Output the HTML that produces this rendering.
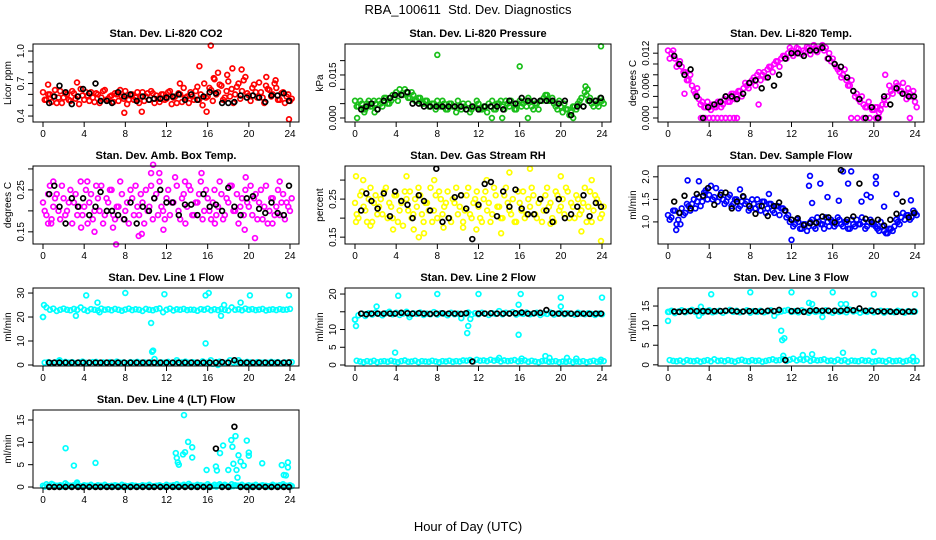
<!DOCTYPE html>
<html><head><meta charset="utf-8"><style>
html,body{margin:0;padding:0;background:#fff;}
svg{display:block;font-family:"Liberation Sans",sans-serif;}
</style></head><body>
<svg id="chart" width="936" height="540" viewBox="0 0 936 540" xmlns="http://www.w3.org/2000/svg">
<rect width="936" height="540" fill="#fff"/>
<text x="468" y="14" font-size="13" text-anchor="middle" style="white-space:pre">RBA_100611  Std. Dev. Diagnostics</text>
<text x="468" y="531" font-size="13" text-anchor="middle">Hour of Day (UTC)</text>
</svg>
<script>
// shared time categories for black (hourly-ish) points
const blackHours=[0.6,1.1,1.6,2.2,2.8,3.4,3.9,4.5,5.1,5.6,6.2,6.7,7.3,7.9,8.5,9.1,9.7,10.3,10.8,11.4,12.0,12.6,13.2,13.8,14.4,15.0,15.6,16.2,16.8,17.4,18.0,18.6,19.2,19.8,20.4,21.0,21.6,22.2,22.8,23.4,23.9];
const xTicks=[0,4,8,12,16,20,24];

// Panel 1: CO2
const co2A=[0.62,0.55,0.60,0.58,0.52,0.63,0.57,0.60,0.54,0.61,0.58,0.65,0.55,0.59,0.62,0.53,0.60,0.57,0.64,0.56,0.59,0.61,0.54,0.58,0.63,0.55,0.60,0.57,0.52,0.62,0.58,0.55,0.61,0.59,0.53,0.60,0.56,0.63,0.57,0.52,0.60,0.66,0.58,0.62,0.55,0.67,0.60,0.70,0.58,0.64,0.74,0.62,0.68,0.57,0.72,0.65,0.60,0.70,0.63,0.76,0.59,0.66,0.62,0.71,0.57,0.68,0.64,0.60,0.66,0.55,0.62,0.58,0.54];
const co2B=[0.55,0.60,0.53,0.64,0.57,0.52,0.61,0.55,0.63,0.56,0.51,0.59,0.62,0.54,0.57,0.61,0.52,0.63,0.55,0.58,0.53,0.60,0.64,0.56,0.51,0.59,0.55,0.62,0.58,0.54,0.61,0.63,0.52,0.56,0.60,0.55,0.62,0.51,0.58,0.61,0.53,0.57,0.52,0.58,0.63,0.55,0.50,0.57,0.66,0.54,0.60,0.69,0.55,0.63,0.58,0.52,0.67,0.56,0.73,0.61,0.54,0.69,0.57,0.62,0.52,0.65,0.58,0.70,0.55,0.61,0.52,0.60,0.56];
const co2OutX=[15.2,16.3,7.9,9.6,23.9,15.9,18.4,19.3,17.9,21.7,22.6,13.3,3.3,0.5,17.0,16.6];
const co2OutY=[0.86,1.05,0.43,0.44,0.37,0.44,0.84,0.83,0.78,0.76,0.73,0.70,0.71,0.69,0.80,0.75];
const co2Black=[0.52,0.58,0.68,0.62,0.51,0.58,0.65,0.61,0.70,0.54,0.54,0.52,0.62,0.58,0.60,0.54,0.58,0.55,0.56,0.56,0.57,0.58,0.60,0.55,0.60,0.55,0.58,0.62,0.61,0.52,0.52,0.53,0.59,0.57,0.59,0.57,0.53,0.59,0.59,0.61,0.54];

// Panel 2: Pressure
const presA=[0.006,0.004,0.005,0.003,0.006,0.004,0.005,0.006,0.004,0.007,0.005,0.008,0.009,0.010,0.008,0.009,0.007,0.008,0.006,0.007,0.005,0.006,0.004,0.005,0.006,0.004,0.005,0.003,0.005,0.004,0.006,0.003,0.004,0.005,0.003,0.004,0.005,0.003,0.004,0.005,0.006,0.003,0.005,0.004,0.006,0.004,0.005,0.003,0.006,0.005,0.004,0.006,0.003,0.005,0.006,0.007,0.008,0.006,0.005,0.003,0.004,0.005,0.003,0.002,0.004,0.005,0.007,0.009,0.006,0.005,0.006,0.004,0.006];
const presB=[0.004,0.006,0.003,0.005,0.004,0.006,0.003,0.005,0.007,0.005,0.006,0.007,0.006,0.008,0.010,0.007,0.009,0.006,0.007,0.005,0.006,0.004,0.005,0.003,0.004,0.006,0.003,0.005,0.004,0.002,0.004,0.005,0.003,0.002,0.004,0.006,0.003,0.004,0.002,0.004,0.003,0.005,0.006,0.003,0.005,0.006,0.003,0.005,0.004,0.006,0.007,0.004,0.005,0.003,0.006,0.008,0.006,0.007,0.004,0.006,0.002,0.003,0.001,0.004,0.003,0.006,0.004,0.008,0.007,0.004,0.005,0.007,0.005];
const presOutX=[8.0,16.0,23.9,0.2,13.3,14.3,16.8,21.2,22.4,22.6,0.9,1.9];
const presOutY=[0.022,0.018,0.025,0.0,0.0,0.0,0.0,0.0,0.011,0.010,0.002,0.002];
const presBlack=[0.003,0.004,0.005,0.003,0.006,0.007,0.008,0.008,0.009,0.005,0.005,0.004,0.004,0.004,0.004,0.004,0.004,0.004,0.003,0.004,0.003,0.004,0.004,0.004,0.003,0.006,0.005,0.007,0.006,0.006,0.006,0.006,0.006,0.005,0.006,0.001,0.004,0.004,0.006,0.006,0.007];

// Panel 3: Li-820 Temp
const tempA=[0.0125,0.0120,0.0110,0.0100,0.0095,0.0085,0.0070,0.0060,0.0045,0.0035,0.0030,0.0020,0.0020,0.0025,0.0020,0.0030,0.0025,0.0040,0.0030,0.0045,0.0040,0.0050,0.0055,0.0060,0.0065,0.0075,0.0080,0.0070,0.0085,0.0090,0.0095,0.0100,0.0105,0.0110,0.0115,0.0120,0.0125,0.0120,0.0128,0.0118,0.0122,0.0130,0.0125,0.0130,0.0128,0.0135,0.0130,0.0120,0.0110,0.0095,0.0085,0.0080,0.0070,0.0060,0.0050,0.0045,0.0030,0.0025,0.0020,0.0020,0.0015,0.0020,0.0015,0.0035,0.0040,0.0050,0.0055,0.0060,0.0050,0.0045,0.0055,0.0040,0.0030];
const tempB=[0.0110,0.0125,0.0095,0.0105,0.0085,0.0070,0.0080,0.0050,0.0055,0.0025,0.0020,0.0030,0.0015,0.0020,0.0030,0.0020,0.0035,0.0030,0.0045,0.0035,0.0050,0.0040,0.0065,0.0055,0.0070,0.0060,0.0085,0.0080,0.0075,0.0095,0.0085,0.0105,0.0095,0.0115,0.0110,0.0130,0.0115,0.0130,0.0120,0.0125,0.0132,0.0118,0.0135,0.0122,0.0130,0.0125,0.0110,0.0105,0.0100,0.0090,0.0075,0.0090,0.0060,0.0070,0.0040,0.0035,0.0040,0.0020,0.0030,0.0015,0.0020,0.0010,0.0025,0.0025,0.0060,0.0045,0.0065,0.0050,0.0065,0.0035,0.0045,0.0050,0.0020];
const tempOutX=[3.2,3.6,4.0,4.4,4.8,5.2,5.6,6.0,6.4,6.7,17.8,18.4,19.0,19.6,20.2,20.5,23.5,8.8,21.1,1.6];
const tempOutY=[0,0,0,0,0,0,0,0,0,0,0,0,0,0,0,0,0,0.0025,0.008,0.0045];
const tempBlack=[0.0115,0.0100,0.0080,0.0090,0.0040,0.0000,0.0020,0.0025,0.0030,0.0040,0.0040,0.0035,0.0045,0.0065,0.0070,0.0055,0.0075,0.0060,0.0080,0.0110,0.0120,0.0120,0.0115,0.0125,0.0125,0.0130,0.0110,0.0100,0.0095,0.0075,0.0050,0.0035,0.0000,0.0020,0.0000,0.0040,0.0025,0.0055,0.0045,0.0040,0.0040];

// Panel 4: Amb. Box Temp
const ambA=[0.22,0.19,0.26,0.21,0.24,0.18,0.23,0.20,0.25,0.22,0.19,0.27,0.21,0.17,0.24,0.20,0.23,0.26,0.19,0.22,0.25,0.18,0.21,0.24,0.20,0.17,0.23,0.26,0.19,0.22,0.25,0.21,0.18,0.24,0.27,0.20,0.23,0.19,0.22,0.26,0.18,0.24,0.21,0.25,0.19,0.22,0.27,0.20,0.23,0.18,0.25,0.21,0.24,0.19,0.22,0.26,0.20,0.17,0.23,0.25,0.21,0.19,0.24,0.22,0.18,0.26,0.20,0.23,0.21,0.19,0.24,0.22,0.20];
const ambB=[0.20,0.24,0.18,0.23,0.20,0.26,0.19,0.22,0.17,0.24,0.21,0.19,0.25,0.22,0.18,0.26,0.20,0.17,0.23,0.25,0.19,0.21,0.27,0.18,0.22,0.25,0.19,0.21,0.24,0.17,0.20,0.26,0.23,0.19,0.21,0.18,0.25,0.22,0.28,0.20,0.23,0.17,0.26,0.19,0.22,0.24,0.18,0.25,0.20,0.22,0.19,0.27,0.18,0.23,0.26,0.20,0.24,0.21,0.19,0.22,0.26,0.23,0.18,0.25,0.21,0.17,0.23,0.19,0.25,0.22,0.18,0.21,0.23];
const ambOutX=[0.5,0.8,3.7,5.0,6.8,7.1,9.3,9.6,10.5,10.7,11.3,15.4,16.7,19.6,20.6,19.7,22.3,23.0,11.7,13.8,1.0,4.3];
const ambOutY=[0.17,0.17,0.16,0.15,0.16,0.12,0.14,0.145,0.29,0.31,0.29,0.29,0.17,0.155,0.135,0.28,0.17,0.27,0.155,0.27,0.27,0.27];
const ambBlack=[0.24,0.26,0.21,0.17,0.23,0.21,0.23,0.19,0.21,0.245,0.20,0.20,0.19,0.18,0.22,0.17,0.21,0.20,0.23,0.25,0.22,0.22,0.19,0.215,0.215,0.19,0.24,0.21,0.215,0.20,0.255,0.21,0.19,0.23,0.235,0.205,0.195,0.22,0.195,0.19,0.26];

// Panel 5: Gas Stream RH
const rhA=[0.24,0.20,0.27,0.22,0.25,0.19,0.26,0.23,0.21,0.28,0.24,0.20,0.26,0.22,0.18,0.25,0.27,0.21,0.23,0.26,0.19,0.24,0.28,0.22,0.20,0.25,0.23,0.27,0.19,0.24,0.21,0.26,0.22,0.28,0.20,0.25,0.23,0.19,0.27,0.24,0.21,0.26,0.23,0.20,0.28,0.22,0.25,0.19,0.24,0.27,0.21,0.23,0.26,0.20,0.25,0.22,0.28,0.24,0.19,0.26,0.23,0.21,0.27,0.24,0.20,0.25,0.22,0.28,0.23,0.19,0.26,0.24,0.21];
const rhB=[0.21,0.26,0.23,0.19,0.28,0.24,0.21,0.25,0.27,0.20,0.23,0.26,0.19,0.24,0.27,0.22,0.20,0.25,0.28,0.21,0.24,0.22,0.19,0.26,0.27,0.21,0.24,0.20,0.25,0.28,0.23,0.19,0.26,0.21,0.24,0.27,0.20,0.25,0.22,0.19,0.28,0.23,0.20,0.26,0.24,0.21,0.19,0.27,0.22,0.20,0.25,0.28,0.21,0.24,0.19,0.26,0.23,0.20,0.27,0.22,0.25,0.28,0.20,0.23,0.26,0.21,0.24,0.19,0.27,0.22,0.25,0.20,0.23];
const rhOutX=[0.1,0.8,0.1,1.5,3.7,5.0,5.7,6.2,6.7,7.7,10.5,12.8,11.8,14.2,15.0,17.0,20.0,22.0,23.9,23.0,8.6,19.0];
const rhOutY=[0.31,0.30,0.19,0.18,0.17,0.31,0.17,0.15,0.16,0.30,0.175,0.30,0.17,0.16,0.32,0.33,0.31,0.165,0.14,0.30,0.175,0.185];
const rhBlack=[0.22,0.265,0.245,0.225,0.265,0.205,0.27,0.245,0.235,0.20,0.26,0.245,0.22,0.33,0.19,0.20,0.255,0.26,0.225,0.145,0.235,0.29,0.295,0.205,0.27,0.23,0.275,0.225,0.21,0.21,0.25,0.22,0.19,0.25,0.20,0.21,0.23,0.26,0.205,0.24,0.23];

// Panel 6: Sample Flow
const sfA=[1.15,1.10,1.25,1.05,1.30,1.20,1.35,1.40,1.30,1.55,1.45,1.70,1.60,1.50,1.75,1.55,1.50,1.45,1.60,1.40,1.50,1.35,1.55,1.45,1.30,1.40,1.50,1.25,1.45,1.30,1.40,1.20,1.35,1.30,1.25,1.15,1.05,0.95,1.00,0.85,0.95,0.90,1.05,0.85,1.00,0.95,1.10,0.90,1.00,0.95,1.05,0.90,1.00,0.85,0.95,1.05,0.95,1.00,0.90,1.05,0.95,0.85,1.00,0.80,0.75,0.85,0.90,1.00,1.10,1.05,1.15,1.10,1.20];
const sfB=[1.05,1.25,0.95,1.20,1.15,1.40,1.25,1.50,1.45,1.35,1.65,1.50,1.80,1.55,1.45,1.65,1.40,1.55,1.35,1.50,1.30,1.45,1.40,1.25,1.50,1.30,1.35,1.45,1.20,1.40,1.25,1.35,1.15,1.30,1.10,1.00,0.90,1.05,0.85,0.95,0.80,1.00,0.90,1.10,0.95,0.85,1.00,1.05,0.90,1.10,0.95,1.00,0.85,1.05,0.90,0.95,1.10,0.85,1.00,0.95,0.90,0.80,0.90,0.75,0.85,0.80,1.05,0.95,1.20,1.15,1.05,1.25,1.15];
const sfOutX=[0.8,13.7,13.8,14.0,14.8,15.5,16.6,17.0,17.5,17.8,18.8,19.3,19.7,20.2,20.2,21.0,22.2,23.6,12.0,1.9,3.0,7.0,1.2,9.8];
const sfOutY=[0.82,1.80,2.02,1.42,1.85,1.55,1.47,2.12,1.85,2.12,1.45,1.60,1.55,2.00,1.85,1.34,1.62,1.48,0.60,1.92,1.90,1.72,0.95,1.62];
const sfBlack=[1.45,1.20,1.58,1.30,1.62,1.58,1.75,1.38,1.60,1.65,1.30,1.45,1.57,1.35,1.18,1.35,1.13,1.35,1.43,1.25,1.05,1.08,0.93,0.97,0.98,1.12,1.10,0.99,2.15,1.05,1.12,1.85,1.07,1.00,1.05,0.92,1.05,1.18,1.45,1.10,1.20];

// Panel 7: Line 1 Flow
const l1A=[20,24,23,23.5,22.5,23,23.5,23,22.8,23.4,23,24,23,22.5,23.3,23,22.7,23.5,23,23.2,22.8,23.4,23,22.6,23.1,23.5,22.9,23.2,23,22.5,23.4,23,22.8,23.3,23.6,22,23,23.5,22.7,23.2,23,23.4,22.9,23.1,23,22.6,23.3,23,23.5,22.8,23.2,22.9,23.4,23,22.7,24,23,23.2,22.8,23.5,23,23.3,22.9,23.1,23.4,22.7,23,23.2,22.9,23.3,23,23.1,23.4];
const l1B=[1,1.2,0.8,1.1,1.5,0.9,1.3,1,1.2,0.8,1.1,1.4,0.9,1,1.2,1.3,0.8,1.1,1,1.2,0.9,1.4,1,1.1,0.8,1.2,1,1.3,0.9,1.1,1,1.2,2.5,0.9,1.1,1,1.3,0.8,1.2,1,1.1,1.4,0.9,1.2,1,0.8,1.5,1,1.1,0.5,1.2,1.4,1,0.9,2,1.1,1.2,0.9,1,1.3,1.1,0.8,1.2,1,1.1,0.9,1.3,1,1.2,0.8,1.1,1,1.2];
const l1OutX=[0,0.1,4.2,3.2,5.3,5.5,8,11.8,10.5,10.7,10.6,15.8,16.1,15.8,17.3,17.6,19.2,20.1,23.9,1.6,13,16.3,19,17.0];
const l1OutY=[20,25,29,20.5,26,22,30,29.5,17.5,6,5.5,29,30,9,20.5,25,26,29,29,2,2,2,2,0];
const l1Black=[1,1,1,1,1,1,1,1,1,1,1,1,1,1,1,1,1,1,1,1,1,1,1,1,1,1,1,1,1,1.2,1,2,1,1,1,1,1,1,1,1,1.1];

// Panel 8: Line 2 Flow
const l2A=[12.8,14,14.5,13.8,14.6,14.2,14.8,14.4,14,14.6,15,14.3,14.7,14.1,14.5,15,14.2,14.6,14.4,14.8,14.1,14.5,14.3,14.9,14.2,14.6,14.4,14,14.7,14.3,14.5,13.2,14.4,14.8,14.2,14.6,14.3,14.7,14.5,14.1,14.6,14.4,15.2,14.3,14.7,14.5,14.9,14.2,14.6,14.4,14.8,14.3,14.5,14.7,14.1,14.6,14.4,14.8,14.2,14.5,14.7,14.3,14.6,14.4,14.2,14.7,14.5,14.3,14.6,14.4,14.1,14.5,14.3];
const l2B=[1.2,1,0.8,1.1,0.9,1.2,0.8,1,1.1,0.9,1.2,1,0.8,1.1,1.3,0.9,1,1.2,0.8,1.1,1,0.9,1.2,1,0.8,1.1,1,1.2,0.9,1.1,1,1.3,1.2,1.4,1,1.5,1.2,1.3,1.1,1.5,1.2,1.4,1,1.3,1.1,1.2,1.4,1,1.1,1.3,0.9,1.2,1,0.8,1.1,1.2,0.9,1,1.1,0.8,1,0.9,1.1,0.8,1,0.9,1.1,0.8,1,1.2,0.9,1,1.1];
const l2OutX=[0,0.1,3.9,2.1,4.2,8,10.9,11,12,15.9,16.1,15.9,20,24,18.9,18.5,14,16.2,20.6,21.5,23.9,20.0,5.3,11.2];
const l2OutY=[12.8,11,3.5,16.5,19.5,20,9,11,20,8.5,20,17,19,19,2,2.5,2,1.8,2,1.8,1.5,16.5,13.5,13];
const l2Black=[14.5,14.3,14.5,14.5,14.5,14.5,14.5,14.7,14.6,14.5,14.6,14.5,14.4,14.5,14.6,14.5,14.5,14.4,14.6,1.0,14.5,14.5,14.6,14.5,14.5,14.5,14.6,14.8,14.5,14.6,14.7,15.5,14.6,14.5,14.5,14.5,14.4,14.5,14.4,14.5,14.5];

// Panel 9: Line 3 Flow
const l3A=[13.5,13.8,13.2,13.6,13.9,13.4,13.7,14,13.5,13.8,13.3,13.7,13.9,13.4,13.6,13.8,13.3,13.7,14,13.5,13.8,13.4,13.6,13.9,13.3,13.7,13.5,13.8,13.4,13.6,13.9,12.5,13.4,13.6,13.8,14,13.5,13.7,13.4,13.9,13.6,13.3,13.8,13.5,13.7,13.4,13.9,13.6,13.3,13.8,13.5,13.7,13.4,14.1,13.6,13.8,13.3,13.7,13.5,13.9,13.4,13.6,13.8,13.3,13.7,13.5,13.4,13.8,13.6,13.3,13.7,13.5,13.6];
const l3B=[1.2,1,0.9,1.1,0.8,1.2,1,0.9,1.1,0.8,1,1.2,0.9,1.4,1,1.1,0.9,1.2,1,0.8,1.1,1.3,1,0.9,1.2,1,1.1,0.8,1,1.2,1.4,1.1,1.2,1.5,1,1.3,1.6,1.1,1.4,1.2,1.5,1,1.3,1.1,1.2,1.4,1,1.1,0.9,1.3,1,1.2,0.8,1.1,1,0.9,1.2,1,1.1,0.8,0.9,1.1,1,0.8,1.2,0.9,1,1.1,0.8,1,1.2,0.9,1];
const l3OutX=[0,0.1,4.2,8,12,16,20,24,11,11.1,11.3,11.2,13.7,14.0,16.8,17.3,20.0,17,13.1,14,23.8,3.2,15,3.0];
const l3OutY=[11.2,13.5,18,18.5,18.5,18.5,18,18,8.7,6.3,6.8,2.3,15.8,15.5,15.5,15.5,3.3,3.1,2.5,2.7,2,14.8,12.2,12.5];
const l3Black=[13.6,13.5,13.6,13.7,13.7,13.7,13.6,13.7,13.7,13.8,13.8,13.6,13.6,13.7,13.7,13.6,13.8,13.7,14.0,1.2,13.7,13.8,13.5,13.8,13.9,13.8,13.8,13.8,13.8,14.0,13.9,14.4,13.8,13.8,13.6,13.6,13.6,13.5,13.5,13.6,13.6];

// Panel 10: Line 4 (LT) Flow
const l4A=[0.3,0.6,0.2,0.5,0.3,0.4,0.2,0.5,0.3,0.4,0.6,0.2,0.4,0.3,0.5,0.2,0.4,0.3,0.5,0.2,0.3,0.4,0.2,0.5,0.3,0.2,0.4,0.3,0.2,0.4,0.3,0.5,0.2,0.3,0.4,0.2,0.5,0.3,0.4,0.6,0.3,0.5,0.2,0.4,0.3,0.5,0.4,0.3,0.6,0.2,0.5,0.4,0.3,0.5,0.2,0.6,0.4,0.3,0.5,0.2,0.4,0.3,0.5,0.2,0.4,0.3,0.2,0.5,0.3,0.4,0.6,0.3,0.4];
const l4B=[0.1,0.2,0.7,0.1,0.3,0.1,0.8,0.2,0.1,0.3,0.2,0.1,0.3,0.1,0.2,0.1,0.3,0.2,0.1,0.2,0.1,0.3,0.1,0.2,0.1,0.3,0.2,0.1,0.2,0.3,0.1,0.2,0.1,0.3,0.2,0.1,0.2,0.3,0.1,0.2,0.3,0.1,0.7,0.2,0.1,0.3,0.2,0.1,0.3,0.2,0.1,0.6,0.2,0.3,0.1,0.2,0.3,0.1,0.2,0.3,0.1,0.2,0.1,0.3,0.2,0.1,0.3,0.2,0.1,0.2,0.3,0.1,0.2];
const l4OutX=[2.2,3.0,3.3,5.1,12.9,13.0,13.1,13.2,13.6,13.8,13.7,14.1,14.5,14.5,15.9,16.8,16.9,17.2,17.5,18.0,18.3,18.4,18.5,18.7,18.8,18.9,19.0,19.2,19.5,19.8,20.0,20.0,21.3,23.2,23.4,23.6,23.8,23.8];
const l4OutY=[8.7,4.8,1.0,5.4,7.6,6.5,5.5,5.0,7.3,7.8,16.1,10.1,8.9,6.6,3.8,4.6,3.7,7.6,9.3,3.8,10.5,9.0,5.2,11.4,3.8,2.1,7.1,5.7,4.8,10.4,7.7,7.0,5.3,4.9,2.7,2.6,4.4,5.5];
const l4Black=[0,0,0,0,0,0,0,0,0,0,0,0,0,0,0,0,0,0,0,0,0,0,0,0,0,0,0,0,8.6,0,0,13.5,0,0,0,0,0,0,0,0,0];

const panels=[
 {name:'co2',title:'Stan. Dev. Li-820 CO2',ylab:'Licor ppm',col:'#ff0000',row:0,c:0,lim:[0.345,1.065],ticks:[0.4,0.5,0.6,0.7,0.8,0.9,1.0],labels:['0.4','','','0.7','','','1.0'],A:co2A,B:co2B,ox:co2OutX,oy:co2OutY,k:co2Black},
 {name:'pressure',title:'Stan. Dev. Li-820 Pressure',ylab:'kPa',col:'#19bf19',row:0,c:1,lim:[-0.0014,0.0258],ticks:[0,0.005,0.01,0.015,0.02],labels:['0.000','','','0.015',''],A:presA,B:presB,ox:presOutX,oy:presOutY,k:presBlack},
 {name:'li820-temp',title:'Stan. Dev. Li-820 Temp.',ylab:'degrees C',col:'#ff00ff',row:0,c:2,lim:[-0.00074,0.0137],ticks:[0,0.002,0.004,0.006,0.008,0.010,0.012],labels:['0.000','','','0.006','','','0.012'],A:tempA,B:tempB,ox:tempOutX,oy:tempOutY,k:tempBlack},
 {name:'amb-box-temp',title:'Stan. Dev. Amb. Box Temp.',ylab:'degrees C',col:'#ff00ff',row:1,c:0,lim:[0.121,0.307],ticks:[0.15,0.20,0.25,0.30],labels:['0.15','','0.25',''],A:ambA,B:ambB,ox:ambOutX,oy:ambOutY,k:ambBlack},
 {name:'gas-stream-rh',title:'Stan. Dev. Gas Stream RH',ylab:'percent',col:'#ffff00',row:1,c:1,lim:[0.132,0.337],ticks:[0.15,0.20,0.25,0.30],labels:['0.15','','0.25',''],A:rhA,B:rhB,ox:rhOutX,oy:rhOutY,k:rhBlack},
 {name:'sample-flow',title:'Stan. Dev. Sample Flow',ylab:'ml/min',col:'#0000ff',row:1,c:2,lim:[0.51,2.24],ticks:[1.0,1.5,2.0],labels:['1.0','1.5','2.0'],A:sfA,B:sfB,ox:sfOutX,oy:sfOutY,k:sfBlack},
 {name:'line1-flow',title:'Stan. Dev. Line 1 Flow',ylab:'ml/min',col:'#00ffff',row:2,c:0,lim:[-0.42,32.1],ticks:[0,10,20,30],labels:['0','10','20','30'],A:l1A,B:l1B,ox:l1OutX,oy:l1OutY,k:l1Black},
 {name:'line2-flow',title:'Stan. Dev. Line 2 Flow',ylab:'ml/min',col:'#00ffff',row:2,c:1,lim:[-0.28,21.7],ticks:[0,5,10,15,20],labels:['0','5','10','','20'],A:l2A,B:l2B,ox:l2OutX,oy:l2OutY,k:l2Black},
 {name:'line3-flow',title:'Stan. Dev. Line 3 Flow',ylab:'ml/min',col:'#00ffff',row:2,c:2,lim:[-0.3,19.6],ticks:[0,5,10,15],labels:['0','5','10','15'],A:l3A,B:l3B,ox:l3OutX,oy:l3OutY,k:l3Black},
 {name:'line4-flow',title:'Stan. Dev. Line 4 (LT) Flow',ylab:'ml/min',col:'#00ffff',row:3,c:0,lim:[-0.22,17.24],ticks:[0,5,10,15],labels:['0','5','10','15'],A:l4A,B:l4B,ox:l4OutX,oy:l4OutY,k:l4Black}
];

const NS='http://www.w3.org/2000/svg';
const svg=document.getElementById('chart');
const LEFTS=[33,345,658], TOPS=[44,166,288,410], W=266, H=78;
function mk(tag,attrs,parent){const e=document.createElementNS(NS,tag);for(const k in attrs)e.setAttribute(k,attrs[k]);parent.appendChild(e);return e;}

panels.forEach(p=>{
  const L=LEFTS[p.c], T=TOPS[p.row], B=T+H;
  const xs=h=>L+10+h*247/24;
  const ys=v=>B-(v-p.lim[0])/(p.lim[1]-p.lim[0])*H;
  const g=mk('g',{},svg);
  
  
  const title=mk('text',{x:L+W/2,y:T-7,'font-size':11,'font-weight':'bold','text-anchor':'middle'},g);
  title.textContent=p.title;
  
  
  const pts=mk('g',{fill:'none','stroke-width':1.7},g);
  
  
  const addPt=(h,v,col)=>{const c=mk('circle',{cx:xs(h).toFixed(1),cy:ys(v).toFixed(1),r:2.4,stroke:col},pts);
    
    };
  p.A.forEach((v,i)=>addPt(i*24/(p.A.length-1),v,p.col));
  p.B.forEach((v,i)=>addPt(i*24/(p.B.length-1)+0.17,v,p.col));
  p.ox.forEach((h,i)=>addPt(h,p.oy[i],p.col));
  p.k.forEach((v,i)=>addPt(blackHours[i],v,'#000'));
  const box=mk('rect',{x:L,y:T,width:W,height:H,fill:'none',stroke:'#000','stroke-width':1},g);
  
  
  const xa=mk('g',{'font-size':10,'text-anchor':'middle'},g);
  
  
  xTicks.forEach(t=>{const x=xs(t);mk('line',{x1:x,x2:x,y1:B,y2:B+5,stroke:'#000'},xa);
    const tx=mk('text',{x:x,y:B+15},xa);tx.textContent=t;
    
    });
  const ya=mk('g',{'font-size':10,'text-anchor':'middle'},g);
  
  
  p.ticks.forEach((t,i)=>{const y=ys(t);mk('line',{x1:L-5,x2:L,y1:y,y2:y,stroke:'#000'},ya);
    if(p.labels[i]){const tx=mk('text',{x:L-9,y:y,transform:`rotate(-90 ${L-9} ${y})`},ya);tx.textContent=p.labels[i];
      
      }});
  const yl=mk('text',{x:L-22,y:(T+B)/2,'font-size':10,'text-anchor':'middle',transform:`rotate(-90 ${L-22} ${(T+B)/2})`},g);
  yl.textContent=p.ylab;
  
  
});
</script>
</body></html>
